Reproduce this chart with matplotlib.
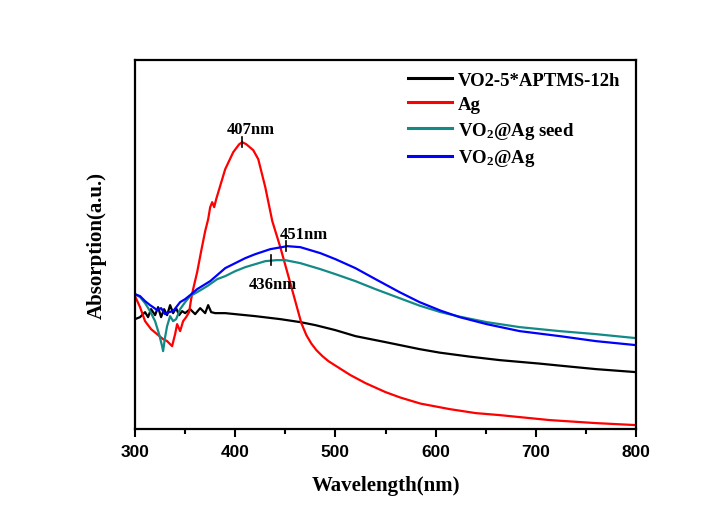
import matplotlib
matplotlib.use("Agg")
import matplotlib.pyplot as plt
from matplotlib.ticker import MultipleLocator

plt.rcParams['mathtext.fontset'] = 'custom'
plt.rcParams['mathtext.rm'] = 'Liberation Serif:bold'
plt.rcParams['mathtext.it'] = 'Liberation Serif:bold:italic'
plt.rcParams['mathtext.bf'] = 'Liberation Serif:bold'

# ---- data (wavelength in nm, absorption in a.u.) ----
wl_black = [300, 305, 310, 313, 316, 320, 323, 326, 329, 332, 335, 338, 341, 344, 347, 350,
            355, 360, 365, 370, 373, 376, 380, 390, 400, 420, 445, 465, 480, 500, 520, 550,
            584, 604, 634, 664, 704, 724, 760, 800]
ab_black = [1.10, 1.12, 1.17, 1.12, 1.20, 1.14, 1.22, 1.12, 1.20, 1.14, 1.24, 1.16, 1.21, 1.14, 1.18, 1.16,
            1.20, 1.15, 1.21, 1.16, 1.24, 1.17, 1.16, 1.16, 1.15, 1.13, 1.10, 1.07, 1.04, 0.99, 0.93, 0.87,
            0.80, 0.765, 0.725, 0.69, 0.655, 0.635, 0.60, 0.57]

wl_red = [300, 305, 310, 316, 322, 328, 332, 337, 340, 342, 345, 348, 351, 354, 356, 358, 362, 366,
          370, 373, 375, 377, 379, 381, 384, 390, 398, 404, 407, 411, 418, 423, 430, 437, 445, 455,
          466, 471, 476, 481, 487, 493, 500, 515, 530, 550, 565, 585, 614, 640, 664, 714, 760, 800]
ab_red = [1.33, 1.22, 1.08, 1.00, 0.95, 0.90, 0.88, 0.83, 0.95, 1.05, 0.98, 1.08, 1.12, 1.17, 1.30, 1.40,
          1.57, 1.78, 1.98, 2.10, 2.22, 2.27, 2.22, 2.30, 2.40, 2.60, 2.77, 2.85, 2.87, 2.85, 2.79, 2.70,
          2.42, 2.08, 1.82, 1.46, 1.06, 0.94, 0.855, 0.79, 0.73, 0.68, 0.635, 0.54, 0.46, 0.37, 0.315,
          0.255, 0.20, 0.16, 0.14, 0.09, 0.06, 0.04]

wl_teal = [300, 305, 310, 315, 320, 324, 327, 328, 330, 332, 335, 338, 341, 345, 350, 355, 362, 372,
           382, 390, 400, 410, 420, 430, 441, 450, 465, 485, 500, 520, 540, 564, 584, 605, 624, 651,
           684, 724, 760, 800]
ab_teal = [1.35, 1.32, 1.26, 1.18, 1.08, 0.95, 0.83, 0.78, 0.92, 1.03, 1.13, 1.08, 1.10, 1.20, 1.27, 1.33,
           1.37, 1.43, 1.50, 1.53, 1.58, 1.62, 1.65, 1.68, 1.69, 1.69, 1.66, 1.60, 1.55, 1.48, 1.40,
           1.31, 1.235, 1.17, 1.125, 1.07, 1.02, 0.98, 0.95, 0.91]

wl_blue = [300, 305, 310, 315, 318, 322, 326, 330, 334, 338, 345, 350, 355, 362, 375, 390, 400, 410,
           420, 435, 452, 465, 475, 485, 500, 520, 540, 564, 584, 605, 624, 651, 684, 724, 760, 800]
ab_blue = [1.35, 1.33, 1.28, 1.24, 1.22, 1.19, 1.21, 1.15, 1.17, 1.18, 1.27, 1.30, 1.34, 1.40, 1.48, 1.61,
           1.66, 1.71, 1.75, 1.80, 1.83, 1.82, 1.79, 1.76, 1.70, 1.61, 1.50, 1.37, 1.27, 1.185, 1.12,
           1.05, 0.98, 0.93, 0.88, 0.84]

labels = ["VO2-5*APTMS-12h", "Ag", "VO$_2$@Ag seed", "VO$_2$@Ag"]
colors = ["#000000", "#ff0000", "#138a86", "#0000ff"]

peak_wl = [407, 451, 436]
peak_ab = [2.87, 1.83, 1.69]
peak_txt = ["407nm", "451nm", "436nm"]

fig = plt.figure(figsize=(7.26, 5.06), dpi=100)
ax = fig.add_axes([0.186, 0.150, 0.690, 0.729])

for wl, ab, lab, c in zip([wl_black, wl_red, wl_teal, wl_blue],
                          [ab_black, ab_red, ab_teal, ab_blue], labels, colors):
    ax.plot(wl, ab, color=c, lw=1.6, label=lab)

# peak markers and annotations
serif_bold = dict(family='Liberation Serif', weight='bold')
tick_h = 0.05
for x, y in zip(peak_wl, peak_ab):
    ax.plot([x, x], [y - tick_h, y + tick_h], color='black', lw=1.2)
ax.text(peak_wl[0] + 8, peak_ab[0] + 0.13, peak_txt[0], ha='center', va='center', fontsize=12, **serif_bold)
ax.text(peak_wl[1] + 17, peak_ab[1] + 0.12, peak_txt[1], ha='center', va='center', fontsize=12, **serif_bold)
ax.text(peak_wl[2] + 2, peak_ab[2] - 0.24, peak_txt[2], ha='center', va='center', fontsize=12, **serif_bold)

ax.set_xlim(300, 800)
ax.set_ylim(0, 3.69)
ax.xaxis.set_major_locator(MultipleLocator(100))
ax.xaxis.set_minor_locator(MultipleLocator(50))
ax.tick_params(axis='x', which='major', direction='out', length=6, width=1.5,
               labelsize=12.5, pad=5)
ax.tick_params(axis='x', which='minor', direction='out', length=3.5, width=1.5)
ax.set_yticks([])
for lbl in ax.get_xticklabels():
    lbl.set_fontfamily('Liberation Sans')
    lbl.set_fontweight('bold')
for s in ax.spines.values():
    s.set_linewidth(1.6)

ax.set_xlabel("Wavelength(nm)", fontsize=15, labelpad=11, **serif_bold)
ax.set_ylabel("Absorption(a.u.)", fontsize=15, labelpad=20, **serif_bold)

leg = ax.legend(loc='upper left', bbox_to_anchor=(0.530, 0.989), frameon=False,
                borderaxespad=0, handlelength=2.35, handletextpad=0.32,
                labelspacing=0.36, prop=dict(family='Liberation Serif', weight='bold', size=13.5))
for h in leg.get_lines():
    h.set_linewidth(2.2)

fig.savefig("out.png", dpi=100)
